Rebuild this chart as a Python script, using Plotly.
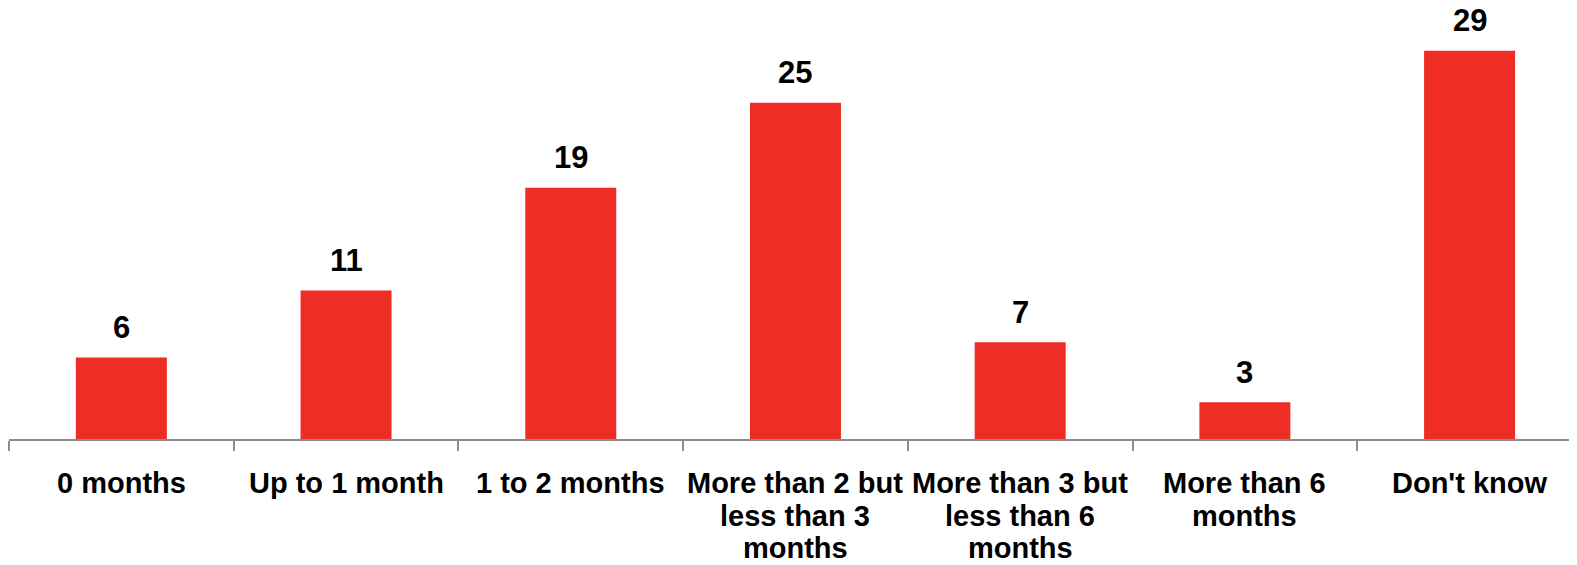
import plotly.graph_objects as go

categories = [
    "0 months",
    "Up to 1 month",
    "1 to 2 months",
    "More than 2 but\nless than 3\nmonths",
    "More than 3 but\nless than 6\nmonths",
    "More than 6\nmonths",
    "Don't know",
]
values = [6.08, 11.1, 18.77, 25.13, 7.22, 2.75, 29.0]
value_labels = ["6", "11", "19", "25", "7", "3", "29"]

BAR_COLOR = "#EE2D27"
AXIS_COLOR = "#8C8C8C"
FONT = "Liberation Sans, Arial, sans-serif"

fig = go.Figure()
fig.add_trace(go.Bar(
    x=categories,
    y=values,
    marker=dict(color=BAR_COLOR, line=dict(width=0)),
    hoverinfo="skip",
    cliponaxis=False,
))

annotations = []
# value labels above bars
for cat, v, lab in zip(categories, values, value_labels):
    annotations.append(dict(
        x=cat, y=v, xref="x", yref="y", text=lab, showarrow=False,
        yanchor="middle", yshift=30,
        font=dict(family=FONT, size=31, color="black", weight="bold"),
    ))
# category labels (one annotation per line for tight line spacing)
for cat in categories:
    for i, line in enumerate(cat.split("\n")):
        annotations.append(dict(
            x=cat, y=0, xref="x", yref="y", text=line, showarrow=False,
            yanchor="middle", yshift=-(44 + 32.5 * i),
            font=dict(family=FONT, size=29, color="black", weight="bold"),
        ))

# page body has an 8px margin; size the figure to fit the window
fig.update_layout(
    width=1569, height=557,
    margin=dict(l=1, r=0, t=0, b=125.5),
    paper_bgcolor="white", plot_bgcolor="white",
    bargap=0.595,
    showlegend=False,
    annotations=annotations,
    xaxis=dict(
        type="category",
        range=[-0.5, 6.478],
        showticklabels=False,
        showline=True, linecolor=AXIS_COLOR, linewidth=2,
        ticks="outside", tickson="boundaries", ticklen=10,
        tickcolor=AXIS_COLOR, tickwidth=2,
        showgrid=False, zeroline=False,
    ),
    yaxis=dict(
        range=[0, 32.2],
        visible=False, showgrid=False, zeroline=False,
    ),
)

fig.write_html("out.html")
